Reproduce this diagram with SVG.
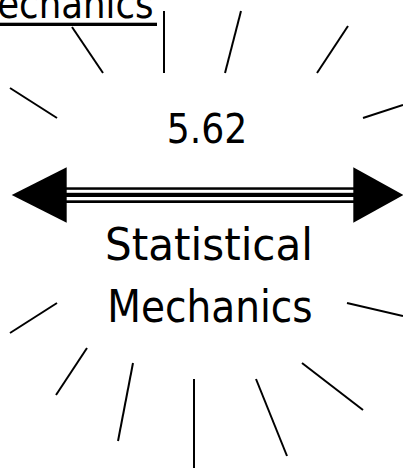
<svg xmlns="http://www.w3.org/2000/svg" width="403" height="468" viewBox="0 0 403 468">
<style>
.t{font-family:"DejaVu Sans","Liberation Sans",sans-serif;fill:#000}
.ray{stroke:#000;stroke-width:2;stroke-linecap:butt;fill:none}
</style>
<rect x="0" y="0" width="403" height="468" fill="#fff"/>
<g id="title">
<text class="t" x="-33.5" y="18" font-size="40" textLength="187" lengthAdjust="spacingAndGlyphs">Mechanics</text>
<rect x="0" y="22.7" width="157" height="3.3" fill="#000"/>
</g>
<g id="rays">
<line class="ray" x1="72" y1="27" x2="103" y2="73"/>
<line class="ray" x1="164" y1="11" x2="164" y2="73"/>
<line class="ray" x1="241" y1="11" x2="225" y2="73"/>
<line class="ray" x1="348" y1="26" x2="317" y2="73"/>
<line class="ray" x1="10" y1="88" x2="57" y2="118"/>
<line class="ray" x1="403" y1="105" x2="363" y2="118"/>
<line class="ray" x1="57" y1="303" x2="10" y2="333"/>
<line class="ray" x1="347" y1="303" x2="403" y2="316"/>
<line class="ray" x1="87" y1="348" x2="56" y2="395"/>
<line class="ray" x1="133" y1="363" x2="118" y2="441"/>
<line class="ray" x1="194" y1="379" x2="194" y2="468"/>
<line class="ray" x1="256" y1="379" x2="287" y2="456"/>
<line class="ray" x1="302" y1="363" x2="363" y2="410"/>
</g>
<g id="value">
<text class="t" x="166.7" y="143.3" font-size="40" textLength="80.6" lengthAdjust="spacingAndGlyphs">5.62</text>
</g>
<g id="arrow">
<rect x="66" y="187.3" width="288" height="2.5" fill="#000"/>
<rect x="66" y="192.8" width="288" height="4.2" fill="#000"/>
<rect x="66" y="200.3" width="288" height="2.7" fill="#000"/>
<polygon points="11.7,195 66.7,167.3 66.7,222.7" fill="#000"/>
<polygon points="353.3,167.3 403.3,195 353.3,222.7" fill="#000"/>
</g>
<g id="label">
<text class="t" x="105" y="260" font-size="44" textLength="208" lengthAdjust="spacingAndGlyphs">Statistical</text>
<text class="t" x="107.3" y="321.7" font-size="44" textLength="205.4" lengthAdjust="spacingAndGlyphs">Mechanics</text>
</g>
</svg>
